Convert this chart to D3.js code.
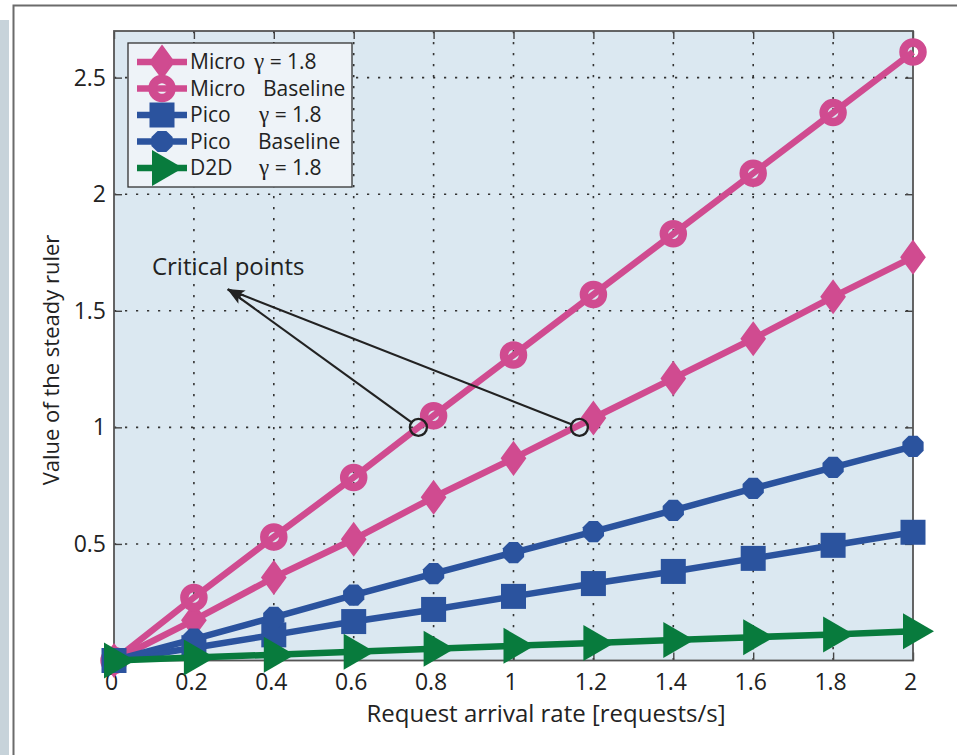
<!DOCTYPE html>
<html>
<head>
<meta charset="utf-8">
<script src="https://cdn.jsdelivr.net/npm/d3@7"></script>
<style>
  body { margin: 0; background: #fff; }
  svg { display: block; font-family: "Open Sans", "Noto Sans", sans-serif; }
</style>
</head>
<body>
<div id="chart"></div>
<script>
// request arrival rate (x) and the five series
const rates = [0, 0.2, 0.4, 0.6, 0.8, 1.0, 1.2, 1.4, 1.6, 1.8, 2.0];
const microGamma    = [0, 0.173, 0.356, 0.52, 0.70, 0.867, 1.04, 1.21, 1.38, 1.56, 1.73];
const microBaseline = [0, 0.27, 0.53, 0.785, 1.05, 1.31, 1.57, 1.83, 2.09, 2.35, 2.61];
const picoGamma     = [0, 0.055, 0.11, 0.167, 0.219, 0.275, 0.33, 0.382, 0.438, 0.494, 0.55];
const picoBaseline  = [0, 0.092, 0.185, 0.28, 0.373, 0.463, 0.553, 0.644, 0.738, 0.828, 0.918];
const d2dGamma      = [0, 0.0125, 0.025, 0.038, 0.05, 0.063, 0.075, 0.088, 0.1, 0.112, 0.125];

const xTicks = [0, 0.2, 0.4, 0.6, 0.8, 1, 1.2, 1.4, 1.6, 1.8, 2];
const yTicks = [0.5, 1, 1.5, 2, 2.5];
const xTickLabels = ['0', '0.2', '0.4', '0.6', '0.8', '1', '1.2', '1.4', '1.6', '1.8', '2'];
const yTickLabels = ['0.5', '1', '1.5', '2', '2.5'];

const seriesNames = ['Micro', 'Micro', 'Pico', 'Pico', 'D2D'];
const seriesNotes = ['\u03b3 = 1.8', 'Baseline', '\u03b3 = 1.8', 'Baseline', '\u03b3 = 1.8'];

// the two circled points where the curves cross 1, and the note
const criticalX = [0.762, 1.165];
const criticalY = [1.0, 1.0];
const noteText = 'Critical points';
const noteAt = [0.095, 1.652];
const arrowTip = [0.285, 1.592];

const pink = '#d04b90', blue = '#2b539e', green = '#087b3d';

const W = 957, H = 755;
const plot = {left: 114, right: 913, top: 31, bottom: 660.5};

const x = d3.scaleLinear().domain([0, 2]).range([plot.left, plot.right]);
const y = d3.scaleLinear().domain([0, 2.7]).range([plot.bottom, plot.top]);

const svg = d3.select('#chart').append('svg')
  .attr('width', W).attr('height', H);

// page frame bits
svg.append('rect').attr('x', 0).attr('y', 20).attr('width', 9).attr('height', H - 20)
  .attr('fill', '#c7d3da');
svg.append('path').attr('d', `M13.5,${H} V5.5 H${W}`)
  .attr('fill', 'none').attr('stroke', '#6b6b6b').attr('stroke-width', 2);

// plot background
svg.append('rect')
  .attr('x', plot.left).attr('y', plot.top)
  .attr('width', plot.right - plot.left).attr('height', plot.bottom - plot.top)
  .attr('fill', '#dbe8f1');

// dotted grid
const grid = svg.append('g').attr('stroke', '#333').attr('stroke-width', 1.6)
  .attr('stroke-dasharray', '2.2,8.8');
grid.selectAll('.gx').data(xTicks.slice(1, -1)).enter().append('line')
  .attr('x1', d => x(d)).attr('x2', d => x(d))
  .attr('y1', plot.top).attr('y2', plot.bottom);
grid.selectAll('.gy').data(yTicks).enter().append('line')
  .attr('y1', d => y(d)).attr('y2', d => y(d))
  .attr('x1', plot.left).attr('x2', plot.right);

// axes: ticks inside, on all four sides
const tickLen = 8;
const axisBottom = d3.axisBottom(x).tickValues(xTicks).tickSizeInner(-tickLen).tickSizeOuter(0)
  .tickFormat((d, i) => xTickLabels[i]).tickPadding(13);
const axisTop = d3.axisTop(x).tickValues(xTicks).tickSizeInner(-tickLen).tickSizeOuter(0)
  .tickFormat('');
const axisLeft = d3.axisLeft(y).tickValues(yTicks).tickSizeInner(-tickLen).tickSizeOuter(0)
  .tickFormat((d, i) => yTickLabels[i]).tickPadding(8);
const axisRight = d3.axisRight(y).tickValues(yTicks).tickSizeInner(-tickLen).tickSizeOuter(0)
  .tickFormat('');

function styleAxis(g) {
  g.select('.domain').remove();
  g.selectAll('line').attr('stroke', '#444').attr('stroke-width', 1.4);
  g.selectAll('text').attr('fill', '#222').attr('font-size', '23px')
    .attr('font-family', '"Open Sans", sans-serif');
}
svg.append('g').attr('transform', `translate(0,${plot.bottom})`).call(axisBottom).call(styleAxis)
  .selectAll('text').attr('dx', -3);
svg.append('g').attr('transform', `translate(0,${plot.top})`).call(axisTop).call(styleAxis);
svg.append('g').attr('transform', `translate(${plot.left},0)`).call(axisLeft).call(styleAxis);
svg.append('g').attr('transform', `translate(${plot.right},0)`).call(axisRight).call(styleAxis);

// plot box
svg.append('rect')
  .attr('x', plot.left).attr('y', plot.top)
  .attr('width', plot.right - plot.left).attr('height', plot.bottom - plot.top)
  .attr('fill', 'none').attr('stroke', '#555').attr('stroke-width', 1.8);

// marker shapes
const markers = {
  diamond: (g, c) => g.append('path').attr('d', 'M0,-15 L11,0 L0,15 L-11,0 Z')
    .attr('fill', c).attr('stroke', c).attr('stroke-width', 3).attr('stroke-linejoin', 'miter'),
  circle: (g, c) => g.append('circle').attr('r', 9.5)
    .attr('fill', 'none').attr('stroke', c).attr('stroke-width', 8.5),
  square: (g, c) => g.append('rect').attr('x', -12.5).attr('y', -12.5)
    .attr('width', 25).attr('height', 25).attr('fill', c),
  hexagon: (g, c) => g.append('path')
    .attr('d', d3.range(8).map(k => {
      const a = Math.PI / 8 + k * Math.PI / 4;
      return (k ? 'L' : 'M') + (11.5 * Math.cos(a)).toFixed(2) + ',' + (11.5 * Math.sin(a)).toFixed(2);
    }).join('') + 'Z').attr('fill', c),
  triangle: (g, c) => g.append('path').attr('d', 'M-10,-18 L21,0 L-10,18 Z').attr('fill', c)
};

const series = [
  {values: microGamma, color: pink, marker: 'diamond'},
  {values: microBaseline, color: pink, marker: 'circle'},
  {values: picoGamma, color: blue, marker: 'square'},
  {values: picoBaseline, color: blue, marker: 'hexagon'},
  {values: d2dGamma, color: green, marker: 'triangle'}
];

const line = d3.line().x(d => x(d[0])).y(d => y(d[1]));

series.forEach(s => {
  const pts = rates.map((r, i) => [r, s.values[i]]);
  const g = svg.append('g');
  g.append('path').datum(pts).attr('d', line)
    .attr('fill', 'none').attr('stroke', s.color).attr('stroke-width', 6.5)
    .attr('stroke-linejoin', 'round');
  pts.forEach(p => {
    const m = g.append('g').attr('transform', `translate(${x(p[0])},${y(p[1])})`);
    markers[s.marker](m, s.color);
  });
});

// legend
const legend = {x: 128, y: 43, w: 224, h: 144, row0: 62, step: 26.5};
const noteX = [254, 263, 259, 258, 259];
svg.append('rect')
  .attr('x', legend.x).attr('y', legend.y).attr('width', legend.w).attr('height', legend.h)
  .attr('fill', '#eef3f8').attr('stroke', '#333').attr('stroke-width', 1.3);

function writeNote(t, txt) {
  // gamma is set in a serif face, as in the figure
  if (txt.startsWith('\u03b3')) {
    t.append('tspan').attr('font-family', '"Liberation Serif", serif').attr('font-size', '23px')
      .text('\u03b3');
    t.append('tspan').text(txt.slice(1));
  } else {
    t.text(txt);
  }
}

series.forEach((s, i) => {
  const ly = legend.row0 + i * legend.step;
  const g = svg.append('g');
  g.append('line').attr('x1', 137).attr('x2', 187).attr('y1', ly).attr('y2', ly)
    .attr('stroke', s.color).attr('stroke-width', 6.5);
  markers[s.marker](g.append('g').attr('transform', `translate(162,${ly})`), s.color);
  g.append('text').attr('x', 190).attr('y', ly).attr('dy', '0.35em')
    .attr('font-size', '21px').attr('fill', '#222').text(seriesNames[i]);
  const t = g.append('text').attr('x', noteX[i]).attr('y', ly).attr('dy', '0.35em')
    .attr('font-size', '21px').attr('fill', '#222');
  writeNote(t, seriesNotes[i]);
});

// annotation: circles, arrows and text
svg.append('defs').append('marker')
  .attr('id', 'arrowhead').attr('viewBox', '0 0 18 11')
  .attr('refX', 17).attr('refY', 5.5)
  .attr('markerWidth', 18).attr('markerHeight', 11)
  .attr('markerUnits', 'userSpaceOnUse').attr('orient', 'auto')
  .append('path').attr('d', 'M0,0 L18,5.5 L0,11 L4,5.5 Z').attr('fill', '#222');

criticalX.forEach((cx, i) => {
  const px = x(cx), py = y(criticalY[i]);
  const tx = x(arrowTip[0]), ty = y(arrowTip[1]);
  const ang = Math.atan2(ty - py, tx - px);
  svg.append('line')
    .attr('x1', px + 8 * Math.cos(ang)).attr('y1', py + 8 * Math.sin(ang))
    .attr('x2', tx).attr('y2', ty)
    .attr('stroke', '#222').attr('stroke-width', 2.2)
    .attr('marker-end', 'url(#arrowhead)');
  svg.append('circle').attr('cx', px).attr('cy', py).attr('r', 8.5)
    .attr('fill', 'none').attr('stroke', '#222').attr('stroke-width', 2.4);
});

svg.append('text').attr('x', x(noteAt[0])).attr('y', y(noteAt[1]))
  .attr('font-size', '24px').attr('fill', '#222').text(noteText);

// axis titles
svg.append('text').attr('x', 546).attr('y', 722).attr('text-anchor', 'middle')
  .attr('font-size', '24px').attr('fill', '#222').text('Request arrival rate [requests/s]');
svg.append('text').attr('transform', 'translate(51,360) rotate(-90)')
  .attr('text-anchor', 'middle').attr('dy', '0.35em')
  .attr('font-size', '22px').attr('fill', '#222').text('Value of the steady ruler');
</script>
</body>
</html>
